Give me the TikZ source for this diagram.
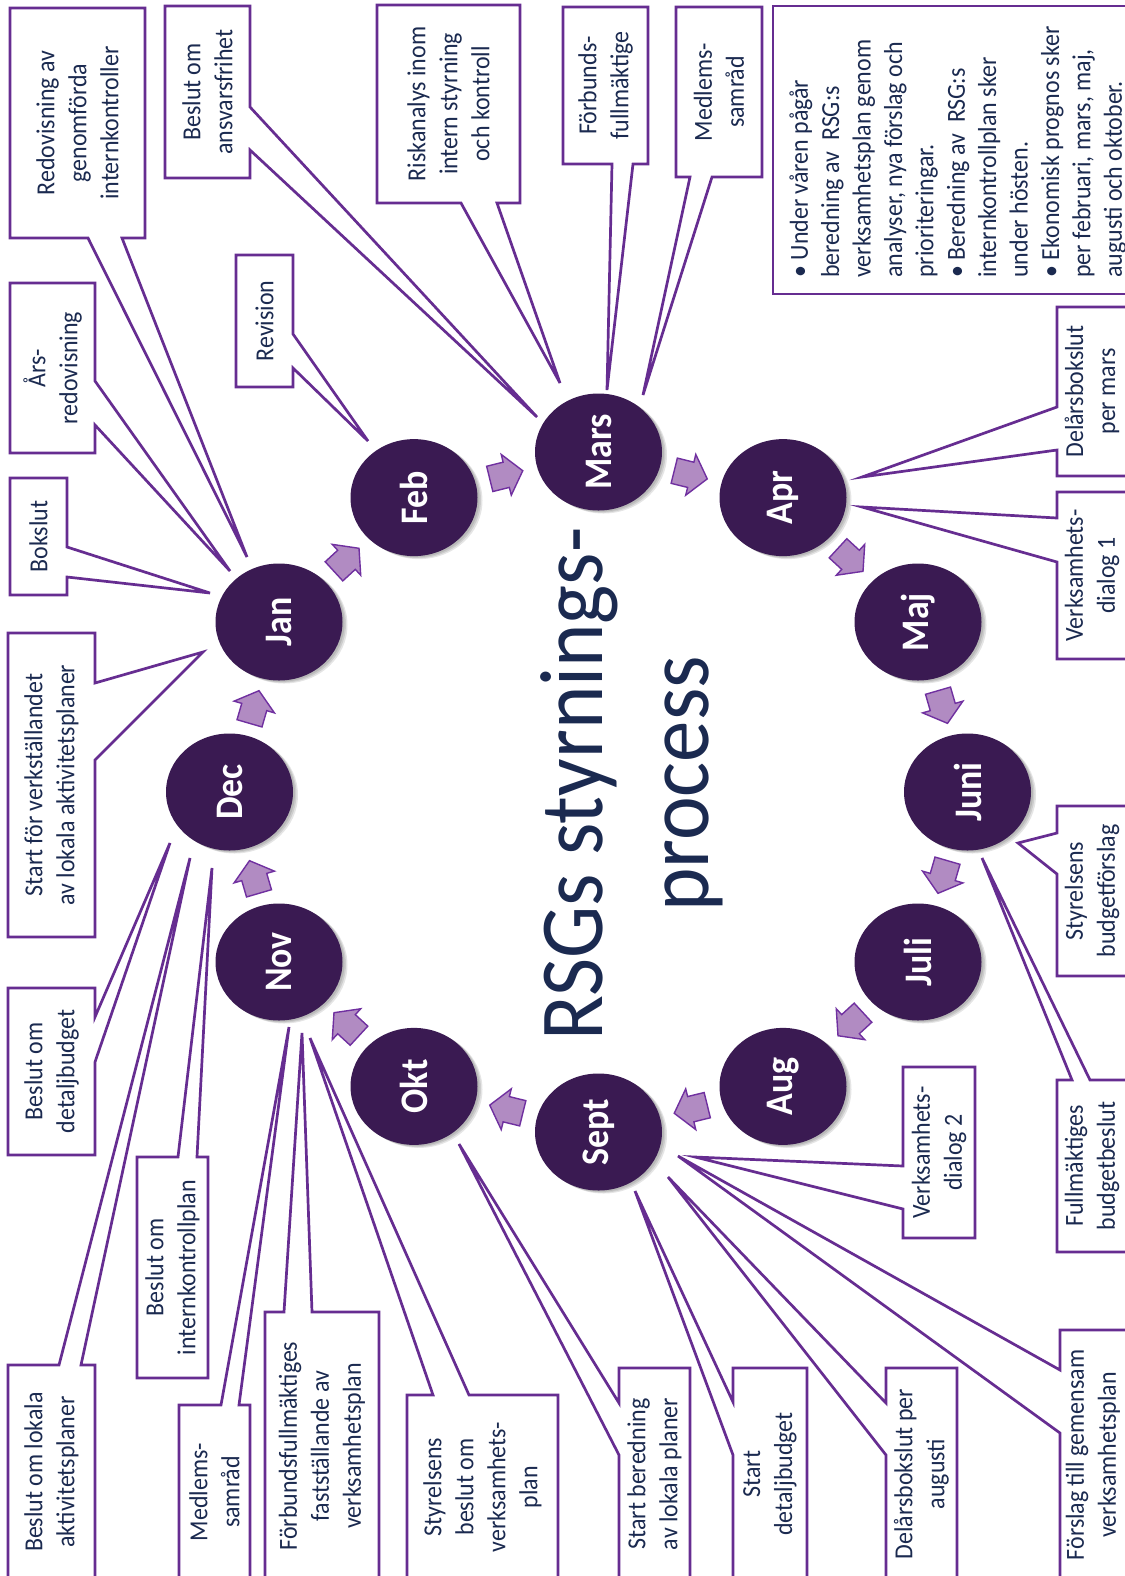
\documentclass[tikz,border=0pt]{standalone}
\usepackage{fontspec}
\newfontfamily\cf[FakeStretch=0.92]{Carlito}
\usetikzlibrary{shapes.geometric,calc}
\definecolor{navy}{RGB}{27,42,80}
\definecolor{cpurple}{RGB}{102,45,145}
\definecolor{dpurple}{RGB}{58,26,82}
\definecolor{lpurple}{RGB}{177,139,194}
\definecolor{apurple}{RGB}{112,48,160}
\begin{document}
\begin{tikzpicture}[x=0.5pt,y=-0.5pt,
  co/.style={draw=cpurple, line width=1.35pt, fill=white, line join=miter},
  lbl/.style={rotate=90, text=navy, align=center, inner sep=0pt, font=\cf\fontsize{13}{16}\selectfont},
  month/.style={ellipse, fill=dpurple, rotate=90, minimum width=58.5pt, minimum height=63.5pt, inner sep=0pt, text=white, font=\cf\bfseries\fontsize{19.5}{20}\selectfont},
  flow/.style={fill=lpurple, draw=apurple, line width=0.7pt, line join=miter},
  shadowc/.style={fill=black, opacity=0.10},
  titlefont/.style={rotate=90, anchor=base, text=navy, inner sep=0pt, font=\cf\fontsize{45}{53}\selectfont}
]
\useasboundingbox (0,0) rectangle (1125,1576);
\clip (0,0) rectangle (1125,1576);
\fill[white] (0,0) rectangle (1125,1576);

% ---------- pointer tips ----------
\coordinate (tRed) at (247,557);
\coordinate (tArs) at (230,571);
\coordinate (tBok) at (210,593);
\coordinate (tAns) at (537,417);
\coordinate (tRev) at (368,441);
\coordinate (tRisk) at (560,383);
\coordinate (tFf) at (607,390);
\coordinate (tMs) at (643,395);
\coordinate (tDm) at (862,477);
\coordinate (tVd1) at (862,507);
\coordinate (tSb) at (1018,843);
\coordinate (tFb) at (982,858);
\coordinate (tVd2) at (695,1157);
\coordinate (tSfv) at (203,652);
\coordinate (tBd) at (170,843);
\coordinate (tBla) at (190,858);
\coordinate (tBik) at (212,868);
\coordinate (tMs2) at (289,1027);
\coordinate (tFfv) at (302,1033);
\coordinate (tSbv) at (310,1038);
\coordinate (tSbl) at (459,1144);
\coordinate (tSd) at (635,1191);
\coordinate (tDa) at (668,1177);
\coordinate (tFg) at (678,1156);

% ---------- callouts ----------
\draw[co] (10,8) -- (145,8) -- (145,238) -- (122,238) -- (tRed) -- (88,238) -- (10,238) -- cycle;
\node[lbl] (redov) at (77.5,123) {Redovisning av\\genomförda\\internkontroller};

\draw[co] (10,283) -- (95,283) -- (95,381) -- (tArs) -- (95,425) -- (95,453) -- (10,453) -- cycle;
\node[lbl] (arsred) at (52.5,368) {Års-\\redovisning};

\draw[co] (10,478) -- (67,478) -- (67,547) -- (tBok) -- (67,577) -- (67,595) -- (10,595) -- cycle;
\node[lbl] (bokslut) at (38.5,536.5) {Bokslut};

\draw[co] (165,6) -- (250,6) -- (250,107) -- (tAns) -- (250,150) -- (250,178) -- (165,178) -- cycle;
\node[lbl] (ansvar) at (207.5,92) {Beslut om\\ansvarsfrihet};

\draw[co] (236,255) -- (293,255) -- (293,334) -- (tRev) -- (293,368) -- (293,387) -- (236,387) -- cycle;
\node[lbl] (revision) at (264.5,321) {Revision};

\draw[co] (377,5) -- (520,5) -- (520,203) -- (497,203) -- (tRisk) -- (461,203) -- (377,203) -- cycle;
\node[lbl] (risk) at (448.5,104) {Riskanalys inom\\intern styrning\\och kontroll};

\draw[co] (563,7) -- (648,7) -- (648,164) -- (633,164) -- (tFf) -- (612,164) -- (563,164) -- cycle;
\node[lbl] (forbff) at (605.5,85.5) {Förbunds-\\fullmäktige};

\draw[co] (676,7) -- (762,7) -- (762,177) -- (712,177) -- (tMs) -- (690,177) -- (676,177) -- cycle;
\node[lbl] (medl1) at (719,92) {Medlems-\\samråd};

\draw[co] (773,6) rectangle (1127,294);
\node[lbl, align=left, anchor=north west, font=\cf\fontsize{13}{15.7}\selectfont] (info) at (789,278)
 {• Under våren pågår\\beredning av~ RSG:s\\verksamhetsplan genom\\analyser, nya förslag och\\prioriteringar.\\• Beredning av~ RSG:s\\internkontrollplan sker\\under hösten.\\• Ekonomisk prognos sker\\per februari, mars, maj,\\augusti och oktober.};

\draw[co] (1057,307) -- (1127,307) -- (1127,476) -- (1057,476) -- (1057,450) -- (tDm) -- (1057,407) -- cycle;
\node[lbl] (delmars) at (1092,391.5) {Delårsbokslut\\per mars};

\draw[co] (1057,492) -- (1127,492) -- (1127,659) -- (1057,659) -- (1057,562) -- (tVd1) -- (1057,518) -- cycle;
\node[lbl] (vd1) at (1092,575.5) {Verksamhets-\\dialog 1};

\draw[co] (1057,806) -- (1127,806) -- (1127,976) -- (1057,976) -- (1057,874) -- (tSb) -- (1057,833) -- cycle;
\node[lbl] (styrbud) at (1092,891) {Styrelsens\\budgetförslag};

\draw[co] (1057,1080) -- (1072,1080) -- (tFb) -- (1090,1080) -- (1127,1080) -- (1127,1252) -- (1057,1252) -- cycle;
\node[lbl] (fullbud) at (1092,1166) {Fullmäktiges\\budgetbeslut};

\draw[co] (903,1067) -- (975,1067) -- (975,1238) -- (903,1238) -- (903,1209) -- (tVd2) -- (903,1166) -- cycle;
\node[lbl] (vd2) at (939,1152.5) {Verksamhets-\\dialog 2};

\draw[co] (8,633) -- (95,633) -- (95,683) -- (tSfv) -- (95,760) -- (95,937) -- (8,937) -- cycle;
\node[lbl] (startverk) at (51.5,785) {Start för verkställandet\\av lokala aktivitetsplaner};

\draw[co] (8,988) -- (95,988) -- (95,1017) -- (tBd) -- (95,1062) -- (95,1155) -- (8,1155) -- cycle;
\node[lbl] (detbud) at (51.5,1071.5) {Beslut om\\detaljbudget};

\draw[co] (8,1365) -- (59,1365) -- (tBla) -- (81,1365) -- (95,1365) -- (95,1580) -- (8,1580) -- cycle;
\node[lbl] (lokakt) at (51.5,1472) {Beslut om lokala\\aktivitetsplaner};

\draw[co] (137,1157) -- (178,1157) -- (tBik) -- (197,1157) -- (208,1157) -- (208,1378) -- (137,1378) -- cycle;
\node[lbl] (ikplan) at (172.5,1267.5) {Beslut om\\internkontrollplan};

\draw[co] (179,1405) -- (221,1405) -- (tMs2) -- (239,1405) -- (250,1405) -- (250,1580) -- (179,1580) -- cycle;
\node[lbl] (medl2) at (214.5,1492) {Medlems-\\samråd};

\draw[co] (265,1312) -- (284,1312) -- (tFfv) -- (312,1312) -- (379,1312) -- (379,1580) -- (265,1580) -- cycle;
\node[lbl] (fastst) at (322,1446) {Förbundsfullmäktiges\\fastställande av\\verksamhetsplan};

\draw[co] (407,1395) -- (433,1395) -- (tSbv) -- (469,1395) -- (558,1395) -- (558,1580) -- (407,1580) -- cycle;
\node[lbl] (styrvp) at (482.5,1487) {Styrelsens\\beslut om\\verksamhets-\\plan};

\draw[co] (619,1368) -- (690,1368) -- (690,1580) -- (619,1580) -- (619,1455) -- (tSbl) -- (619,1403) -- cycle;
\node[lbl] (startber) at (654.5,1474) {Start beredning\\av lokala planer};

\draw[co] (733,1368) -- (807,1368) -- (807,1580) -- (733,1580) -- (733,1455) -- (tSd) -- (733,1402) -- cycle;
\node[lbl] (startdet) at (770,1474) {Start\\detaljbudget};

\draw[co] (886,1368) -- (957,1368) -- (957,1580) -- (886,1580) -- (886,1455) -- (tDa) -- (886,1403) -- cycle;
\node[lbl] (delaug) at (921.5,1474) {Delårsbokslut per\\augusti};

\draw[co] (1060,1330) -- (1127,1330) -- (1127,1580) -- (1060,1580) -- (1060,1433) -- (tFg) -- (1060,1370) -- cycle;
\node[lbl] (forslag) at (1093,1455) {Förslag till gemensam\\verksamhetsplan};

% ---------- title ----------
\node[titlefont] (title1) at (602,784) {RSGs styrnings-};
\node[titlefont] (title2) at (708,784) {process};

% ---------- months ----------
\foreach \nm/\lab/\xx/\yy in {mars/Mars/598.5/452, apr/Apr/783/497.6, maj/Maj/918/622, juni/Juni/967.5/792, juli/Juli/918/962, aug/Aug/783/1086.4, sept/Sept/598.5/1132, okt/Okt/414/1086.4, nov/Nov/279/962, dec/Dec/229.5/792, jan/Jan/279/622, feb/Feb/414/497.6} {
  \foreach \sh in {2,3.5,5} {\fill[shadowc] (\xx+\sh,\yy+0.6*\sh) ellipse [x radius=63.5, y radius=58.5];}
  \node[month] (\nm) at (\xx,\yy) {\lab};
}

% ---------- flow arrows ----------
\foreach \ma/\mb in {jan/feb,feb/mars,mars/apr,apr/maj,maj/juni,juni/juli,juli/aug,aug/sept,sept/okt,okt/nov,nov/dec,dec/jan} {
  \pgfmathanglebetweenpoints{\pgfpointanchor{\ma}{center}}{\pgfpointanchor{\mb}{center}}
  \let\ang\pgfmathresult
  \begin{scope}[shift={($(\ma)!0.5!(\mb)$)}, rotate=\ang]
    \draw[flow] (-17,13) -- (0,13) -- (0,21) -- (17,0) -- (0,-21) -- (0,-13) -- (-17,-13) -- cycle;
  \end{scope}
}
\end{tikzpicture}
\end{document}
